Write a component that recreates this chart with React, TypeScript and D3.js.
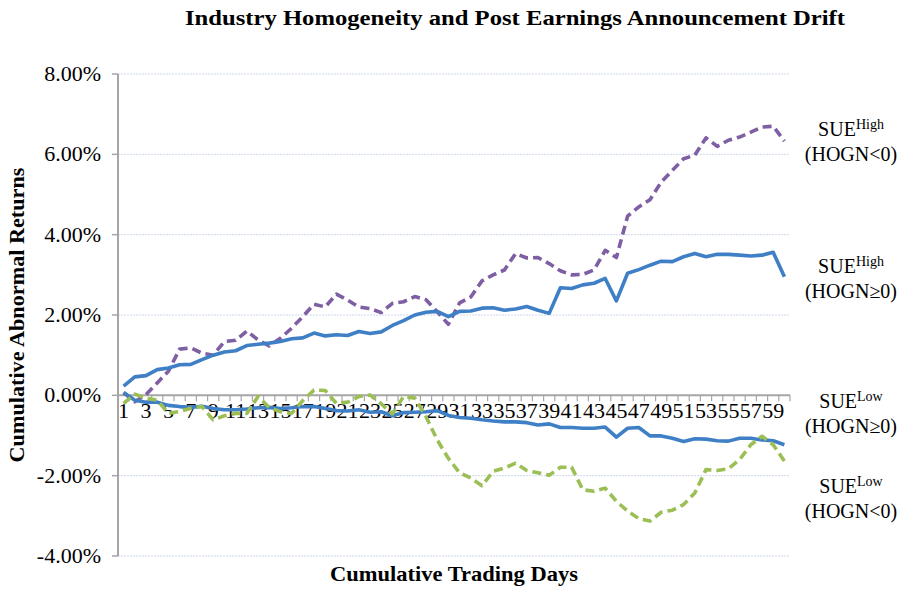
import * as d3 from "d3";
import React from "react";

// trading days 1..60
const days = d3.range(1, 61);
const yTicks = [-0.04, -0.02, 0, 0.02, 0.04, 0.06, 0.08];

// cumulative abnormal returns, in percent
const highNeg = [
  0.07, -0.16, 0.02, 0.31, 0.6, 1.15, 1.18, 1.05, 1.0, 1.34,
  1.37, 1.6, 1.38, 1.23, 1.42, 1.67, 1.96, 2.27, 2.2, 2.52,
  2.37, 2.2, 2.16, 2.06, 2.29, 2.33, 2.46, 2.38, 2.08, 1.77,
  2.3, 2.45, 2.85, 3.0, 3.12, 3.53, 3.42, 3.43, 3.28, 3.1,
  3.0, 3.01, 3.12, 3.61, 3.43, 4.46, 4.69, 4.87, 5.31, 5.6,
  5.89, 5.98, 6.41, 6.2, 6.35, 6.43, 6.55, 6.68, 6.7, 6.33,
];
const highPos = [
  0.23, 0.46, 0.49, 0.64, 0.68, 0.76, 0.77, 0.89, 1.0, 1.08,
  1.11, 1.24, 1.27, 1.3, 1.34, 1.41, 1.43, 1.55, 1.48, 1.51,
  1.49, 1.59, 1.54, 1.58, 1.74, 1.86, 2.0, 2.07, 2.09, 1.96,
  2.09, 2.1, 2.17, 2.18, 2.12, 2.15, 2.21, 2.12, 2.04, 2.68,
  2.66, 2.75, 2.79, 2.91, 2.35, 3.04, 3.13, 3.24, 3.34, 3.33,
  3.45, 3.53, 3.45, 3.51, 3.51, 3.49, 3.47, 3.49, 3.56, 2.95,
];
const lowPos = [
  0.07, -0.12, -0.17, -0.17, -0.25, -0.28, -0.3, -0.27, -0.33, -0.36,
  -0.36, -0.34, -0.31, -0.3, -0.33, -0.31, -0.28, -0.28, -0.33, -0.38,
  -0.39, -0.36, -0.42, -0.41, -0.51, -0.43, -0.42, -0.41, -0.38, -0.5,
  -0.55, -0.57, -0.61, -0.64, -0.66, -0.66, -0.68, -0.74, -0.71, -0.8,
  -0.8, -0.82, -0.82, -0.79, -1.04, -0.82, -0.8, -1.01, -1.01, -1.07,
  -1.15, -1.08, -1.09, -1.13, -1.14, -1.07, -1.07, -1.11, -1.13, -1.23,
];
const lowNeg = [
  -0.2, 0.03, -0.07, -0.12, -0.45, -0.4, -0.32, -0.28, -0.61, -0.51,
  -0.45, -0.45, -0.03, -0.3, -0.41, -0.45, -0.13, 0.13, 0.12, -0.2,
  -0.17, -0.03, 0.01, -0.21, -0.46, -0.03, -0.07, -0.53, -1.11, -1.57,
  -1.93, -2.06, -2.25, -1.89, -1.81, -1.69, -1.87, -1.93, -1.99, -1.79,
  -1.79, -2.35, -2.39, -2.31, -2.64, -2.88, -3.07, -3.13, -2.91, -2.86,
  -2.72, -2.43, -1.85, -1.87, -1.83, -1.6, -1.23, -1.02, -1.23, -1.64,
];

const series = [
  { values: highNeg, color: "#7f5fa4", dash: "9,5" },
  { values: highPos, color: "#3f7fc6", dash: null },
  { values: lowPos, color: "#3f7fc6", dash: null },
  { values: lowNeg, color: "#9bbf55", dash: "9,5" },
];

const labels = [
  { sup: "High", sub: "(HOGN<0)", y: 136 },
  { sup: "High", sub: "(HOGN\u22650)", y: 273 },
  { sup: "Low", sub: "(HOGN\u22650)", y: 408 },
  { sup: "Low", sub: "(HOGN<0)", y: 493 },
];

const serif = "'Liberation Serif', 'Times New Roman', serif";

export default function App() {
  const x = d3.scaleBand<number>().domain(days).range([118, 790]);
  const y = d3.scaleLinear().domain([-0.04, 0.08]).range([556, 74]);
  const cx = (d: number) => (x(d) as number) + x.bandwidth() / 2;
  const line = d3
    .line<number>()
    .x((_, i) => cx(days[i]))
    .y((v) => y(v / 100));
  const fmt = d3.formatLocale({ decimal: ".", thousands: ",", grouping: [3], currency: ["$", ""], minus: "-" }).format(".2%");
  const y0 = y(0);
  const bounds = d3.range(0, 61).map((i) => 118 + i * x.step());

  return (
    <svg
      width={901}
      height={589}
      style={{ position: "absolute", left: 0, top: 0, background: "#fff" }}
      fontFamily={serif}
    >
      <text
        x={515}
        y={25}
        textAnchor="middle"
        fontSize={22}
        fontWeight="bold"
        textLength={660}
        lengthAdjust="spacingAndGlyphs"
      >
        Industry Homogeneity and Post Earnings Announcement Drift
      </text>

      {/* gridlines */}
      {yTicks.filter((t) => t !== 0).map((t) => (
        <line key={t} x1={118} x2={790} y1={y(t)} y2={y(t)} stroke="#cdd8ee" strokeWidth={1} strokeDasharray="2,1" />
      ))}

      {/* y axis */}
      <line x1={118} x2={118} y1={74} y2={556} stroke="#a6a6a6" strokeWidth={2} />
      {yTicks.map((t) => (
        <g key={t}>
          <line x1={112} x2={118} y1={y(t)} y2={y(t)} stroke="#a6a6a6" strokeWidth={1.5} />
          <text x={101} y={y(t) + 7} textAnchor="end" fontSize={22}>
            {fmt(t)}
          </text>
        </g>
      ))}

      {/* x axis at zero */}
      <line x1={118} x2={790} y1={y0} y2={y0} stroke="#a6a6a6" strokeWidth={2} />
      {bounds.map((b, i) => (
        <line key={i} x1={b} x2={b} y1={y0} y2={y0 + 6} stroke="#a6a6a6" strokeWidth={1.2} />
      ))}
      {days.filter((d) => d % 2 === 1).map((d) => (
        <text key={d} x={cx(d)} y={y0 + 23} textAnchor="middle" fontSize={22}>
          {d}
        </text>
      ))}

      {series.map((s, i) => (
        <path
          key={i}
          d={line(s.values) || ""}
          fill="none"
          stroke={s.color}
          strokeWidth={3.6}
          strokeDasharray={s.dash || undefined}
          strokeLinejoin="round"
        />
      ))}

      {/* axis titles */}
      <text
        transform={`translate(24,${y(0.02)}) rotate(-90)`}
        textAnchor="middle"
        fontSize={21}
        fontWeight="bold"
        textLength={295}
        lengthAdjust="spacingAndGlyphs"
      >
        Cumulative Abnormal Returns
      </text>
      <text
        x={454}
        y={581}
        textAnchor="middle"
        fontSize={21}
        fontWeight="bold"
        textLength={248}
        lengthAdjust="spacingAndGlyphs"
      >
        Cumulative Trading Days
      </text>

      {/* series labels */}
      {labels.map((l, i) => (
        <g key={i} fontSize={20}>
          <text x={851} y={l.y} textAnchor="middle">
            SUE<tspan fontSize={14} dy={-7}>{l.sup}</tspan>
          </text>
          <text x={851} y={l.y + 25} textAnchor="middle">
            {l.sub}
          </text>
        </g>
      ))}
    </svg>
  );
}
